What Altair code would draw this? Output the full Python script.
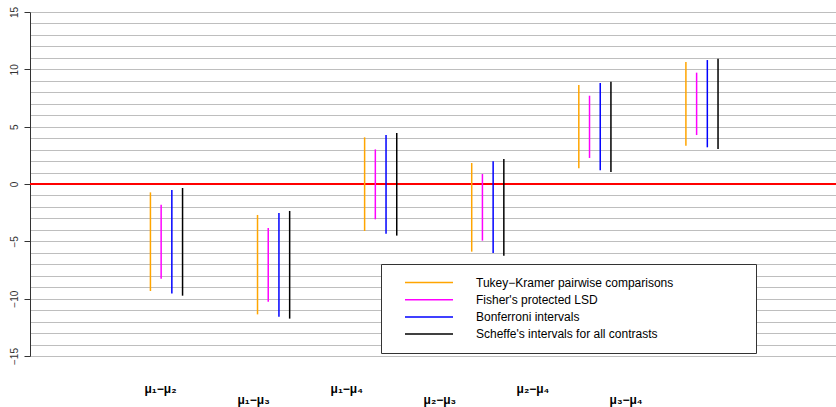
import altair as alt
import pandas as pd

# Pairwise comparisons of four group means
comparisons = ["μ₁−μ₂", "μ₁−μ₃", "μ₁−μ₄", "μ₂−μ₃", "μ₂−μ₄", "μ₃−μ₄"]

methods = [
    "Tukey−Kramer pairwise comparisons",
    "Fisher's protected LSD",
    "Bonferroni intervals",
    "Scheffe's intervals for all contrasts",
]
method_colors = ["#FFA500", "#FF00FF", "#0000FF", "#000000"]

# Interval endpoints (lower, upper) per method, one value per comparison
tukey_lo = [-9.33, -11.37, -4.10, -5.90, 1.37, 3.34]
tukey_hi = [-0.73, -2.70, 4.07, 1.83, 8.63, 10.64]
lsd_lo = [-8.26, -10.26, -3.08, -4.94, 2.27, 4.27]
lsd_hi = [-1.80, -3.84, 3.02, 0.87, 7.70, 9.71]
bonf_lo = [-9.56, -11.57, -4.33, -6.02, 1.19, 3.20]
bonf_hi = [-0.52, -2.53, 4.27, 1.98, 8.81, 10.81]
scheffe_lo = [-9.74, -11.74, -4.50, -6.25, 1.05, 3.05]
scheffe_hi = [-0.35, -2.35, 4.45, 2.18, 8.92, 10.93]

y_ticks = list(range(-15, 16))

lows = [tukey_lo, lsd_lo, bonf_lo, scheffe_lo]
highs = [tukey_hi, lsd_hi, bonf_hi, scheffe_hi]

rows = []
for m, (method, lo, hi) in enumerate(zip(methods, lows, highs)):
    for g in range(len(comparisons)):
        rows.append({"group": g + 1, "midx": m, "method": method,
                     "lo": lo[g], "hi": hi[g]})
intervals = pd.DataFrame(rows)

labels_df = pd.DataFrame({
    "label": comparisons,
    "pos": list(range(1, len(comparisons) + 1)),
    "row": [i % 2 for i in range(len(comparisons))],
})

W, H = 806, 344

y_scale = alt.Scale(domain=[-15, 15], nice=False, zero=False)

zero_line = alt.Chart(intervals).mark_rule(color="#FF0000", strokeWidth=1.5).encode(
    y=alt.datum(0, scale=y_scale),
)

# trailing no-break spaces (kept by a zero-width end mark) widen the legend frame
legend_pad = "\u00a0" * 21 + "\u200b"

bars = alt.Chart(intervals).transform_calculate(
    xpos="datum.group + (datum.midx - 1.5) * 0.1"
).mark_rule(strokeWidth=1.5).encode(
    x=alt.X("xpos:Q", scale=alt.Scale(domain=[-0.2745, 7.2515], nice=False, zero=False), axis=None),
    y=alt.Y(
        "lo:Q",
        scale=y_scale,
        title=None,
        axis=alt.Axis(
            values=y_ticks,
            tickCount=len(y_ticks),
            labelExpr="datum.value % 5 === 0 ? datum.label : ''",
            labelOverlap=False,
            labelFlush=False,
            labelAngle=270,
            labelAlign="center",
            labelBaseline="bottom",
            labelFont="Liberation Sans",
            labelFontSize=10,
            labelColor="#333333",
            labelPadding=5,
            tickSize=6,
            tickColor="#333333",
            tickOpacity={"condition": {"test": "datum.value % 5 === 0", "value": 1}, "value": 0},
            domainColor="#333333",
            domainWidth=1,
            grid=True,
            gridColor="#bebebe",
            gridWidth=1,
        ),
    ),
    y2="hi:Q",
    color=alt.Color(
        "method:N",
        sort=methods,
        scale=alt.Scale(domain=methods, range=method_colors),
        legend=alt.Legend(
            title=None,
            orient="none",
            legendX=351,
            legendY=252,
            symbolType="stroke",
            symbolSize=2304,
            symbolStrokeWidth=1.5,
            symbolOffset=11,
            clipHeight=13,
            labelFont="Liberation Sans",
            labelFontSize=12,
            labelColor="#000000",
            labelLimit=500,
            labelOffset=22,
            labelExpr=f"datum.label + '{legend_pad}'",
            rowPadding=4.2,
            padding=12,
            strokeColor="#333333",
            fillColor="#FFFFFF",
        ),
    ),
)

labels = alt.Chart(labels_df).transform_calculate(
    ly="-17.88 - 0.96 * datum.row"
).mark_text(
    font="Liberation Sans", fontSize=12, fontWeight="bold", baseline="middle", color="#000000"
).encode(
    x=alt.X("pos:Q", scale=alt.Scale(domain=[-0.4017, 8.255], nice=False, zero=False), axis=None),
    y=alt.Y("ly:Q", scale=y_scale),
    text="label:N",
)

chart = alt.layer(zero_line, bars, labels).resolve_scale(
    x="independent"
).properties(
    width=W,
    height=H,
    autosize=alt.AutoSizeParams(type="none"),
    padding={"left": 30, "top": 12, "right": 0, "bottom": 51},
    background="#FFFFFF",
).configure_view(stroke=None)

chart.save("out.html", embed_options={"renderer": "svg", "actions": False})
